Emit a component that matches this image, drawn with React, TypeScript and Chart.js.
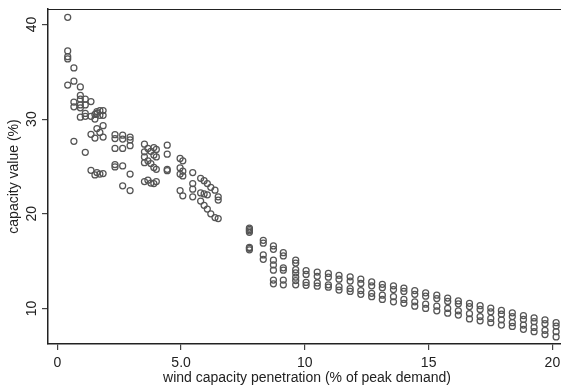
import React, { useEffect, useRef } from "react";
import { Chart, registerables } from "chart.js";

Chart.register(...registerables);

// ---- data ----
const lowPenX = [0.42, 0.42, 0.42, 0.42, 0.42, 0.67, 0.67, 0.67, 0.67, 0.67, 0.93, 0.93, 0.93, 0.93, 0.93, 0.93, 1.13, 1.13, 1.13, 1.13, 1.13, 1.36, 1.36, 1.36, 1.36, 1.52, 1.52, 1.52, 1.52, 1.6, 1.6, 1.6, 1.6, 1.72, 1.72, 1.72, 1.72, 1.85, 1.85, 1.85, 1.85, 1.85, 2.33, 2.33, 2.33, 2.33, 2.33, 2.64, 2.64, 2.64, 2.64, 2.64, 2.94, 2.94, 2.94, 2.94, 2.94];
const lowPenY = [40.75, 37.2, 36.6, 36.35, 33.6, 35.4, 34.0, 31.8, 31.3, 27.65, 33.4, 32.5, 32.1, 31.5, 31.2, 30.2, 32.1, 31.5, 30.6, 30.3, 26.5, 31.85, 30.3, 28.4, 24.6, 30.5, 30.0, 28.0, 24.1, 30.8, 30.6, 29.0, 24.35, 30.9, 30.4, 28.6, 24.2, 30.9, 30.4, 29.3, 28.1, 24.25, 28.35, 27.95, 26.9, 25.2, 24.95, 28.3, 27.9, 26.9, 25.05, 22.95, 28.1, 27.8, 27.2, 24.2, 22.45];

const midPenX = [3.52, 3.52, 3.52, 3.52, 3.52, 3.66, 3.66, 3.66, 3.78, 3.78, 3.78, 3.9, 3.9, 3.9, 3.9, 4.0, 4.0, 4.0, 4.0, 4.44, 4.44, 4.44, 4.44, 4.96, 4.96, 4.96, 4.96, 5.07, 5.07, 5.07, 5.07, 5.47, 5.47, 5.47, 5.47, 5.79, 5.79, 5.79, 5.93, 5.93, 5.93, 6.06, 6.06, 6.06, 6.2, 6.2, 6.37, 6.37, 6.5, 6.5, 6.5];
const midPenY = [27.35, 26.55, 26.0, 25.4, 23.4, 26.9, 25.6, 23.55, 26.6, 25.3, 23.25, 27.0, 26.2, 24.9, 23.2, 26.8, 26.0, 24.7, 23.4, 27.25, 26.3, 24.7, 24.55, 25.85, 24.85, 24.2, 22.45, 25.6, 24.5, 24.0, 21.9, 24.35, 23.2, 22.6, 21.8, 23.75, 22.2, 21.35, 23.5, 22.1, 20.9, 23.2, 22.0, 20.5, 22.8, 20.0, 22.5, 19.6, 21.8, 21.45, 19.5];

const transitionX = [7.76, 7.76, 7.76, 7.76, 7.76, 7.76, 7.76, 8.32, 8.32, 8.32, 8.32, 8.73, 8.73, 8.73, 8.73, 8.73, 8.73, 8.73, 9.13, 9.13, 9.13, 9.13, 9.13, 9.13, 9.63, 9.63, 9.63, 9.63, 9.63, 9.63, 9.63];
const transitionY = [18.5, 18.35, 18.2, 18.05, 16.45, 16.35, 16.2, 17.2, 16.9, 15.65, 15.2, 16.6, 16.25, 15.1, 14.6, 14.05, 13.0, 12.6, 15.9, 15.55, 14.3, 14.05, 13.0, 12.5, 15.1, 14.8, 14.1, 13.75, 13.3, 12.95, 12.5];

const highPenX = [10.05, 10.5, 10.95, 11.38, 11.83, 12.26, 12.7, 13.13, 13.58, 14.0, 14.44, 14.88, 15.33, 15.77, 16.2, 16.65, 17.08, 17.51, 17.94, 18.38, 18.83, 19.26, 19.7, 20.15];
const highPenTop = [14.0, 13.85, 13.7, 13.5, 13.35, 13.1, 12.8, 12.55, 12.4, 12.15, 11.9, 11.65, 11.4, 11.1, 10.8, 10.55, 10.3, 10.05, 9.8, 9.55, 9.25, 9.0, 8.8, 8.5];
const highPenUpper = [13.6, 13.4, 13.3, 13.1, 12.9, 12.65, 12.4, 12.2, 12.0, 11.8, 11.5, 11.3, 11.05, 10.75, 10.5, 10.2, 9.9, 9.65, 9.4, 9.15, 8.85, 8.6, 8.4, 8.15];
const highPenLower = [12.75, 12.7, 12.5, 12.3, 12.1, 11.9, 11.6, 11.4, 11.25, 10.95, 10.7, 10.45, 10.25, 10.0, 9.75, 9.45, 9.15, 8.95, 8.8, 8.5, 8.25, 8.0, 7.7, 7.55];
const highPenBottom = [12.45, 12.35, 12.25, 11.95, 11.8, 11.5, 11.25, 10.95, 10.7, 10.55, 10.25, 10.0, 9.75, 9.5, 9.3, 8.9, 8.7, 8.5, 8.25, 8.1, 7.8, 7.55, 7.25, 7.0];

const xTickValues = [0, 5, 10, 15, 20];
const xTickLabels = ["0", "5.0", "10", "15", "20"];
const yTickValues = [10, 20, 30, 40];
const yTickLabels = ["10", "20", "30", "40"];
const xTitle = "wind capacity penetration (% of peak demand)";
const yTitle = "capacity value (%)";

const FONT = '14px "Liberation Sans", Arial, Helvetica, sans-serif';
const INK = "#222";

function zip(xs: number[], ys: number[]) {
  return xs.map((x, i) => ({ x, y: ys[i] }));
}

export default function App() {
  const ref = useRef<HTMLCanvasElement | null>(null);

  useEffect(() => {
    document.body.style.margin = "0";
    const canvas = ref.current!;
    const points = [
      ...zip(lowPenX, lowPenY),
      ...zip(midPenX, midPenY),
      ...zip(transitionX, transitionY),
      ...zip(highPenX, highPenTop),
      ...zip(highPenX, highPenUpper),
      ...zip(highPenX, highPenLower),
      ...zip(highPenX, highPenBottom),
    ];

    const textPlugin = {
      id: "stataText",
      afterDraw(chart: any) {
        const ctx = chart.ctx;
        const xs = chart.scales.x;
        const ys = chart.scales.y;
        const area = chart.chartArea;
        ctx.save();
        // top frame line
        ctx.strokeStyle = INK;
        ctx.lineWidth = 1;
        ctx.beginPath();
        ctx.moveTo(area.left, area.top + 0.5);
        ctx.lineTo(area.right, area.top + 0.5);
        ctx.stroke();

        ctx.fillStyle = INK;
        ctx.font = FONT;
        ctx.textAlign = "center";
        ctx.textBaseline = "alphabetic";
        xTickValues.forEach((v, i) => {
          ctx.fillText(xTickLabels[i], xs.getPixelForValue(v), 367);
        });
        ctx.fillText(xTitle, 307, 382);
        yTickValues.forEach((v, i) => {
          ctx.save();
          ctx.translate(35.5, ys.getPixelForValue(v));
          ctx.rotate(-Math.PI / 2);
          ctx.fillText(yTickLabels[i], 0, 0);
          ctx.restore();
        });
        ctx.save();
        ctx.translate(17.5, (area.top + area.bottom) / 2);
        ctx.rotate(-Math.PI / 2);
        ctx.fillText(yTitle, 0, 0);
        ctx.restore();
        ctx.restore();
      },
    };

    const chart = new Chart(canvas, {
      type: "scatter",
      data: {
        datasets: [
          {
            data: points,
            pointRadius: 3,
            pointHoverRadius: 3,
            pointBorderWidth: 1.25,
            pointBorderColor: "#555555",
            pointBackgroundColor: "rgba(0,0,0,0)",
            showLine: false,
          },
        ],
      },
      options: {
        animation: false,
        responsive: false,
        devicePixelRatio: 1,
        layout: { padding: { top: 9, left: 0, right: 0, bottom: 0 }, autoPadding: false },
        plugins: { legend: { display: false }, tooltip: { enabled: false } },
        scales: {
          x: {
            type: "linear",
            min: -0.376,
            max: 20.63,
            afterBuildTicks: (s: any) => {
              s.ticks = xTickValues.map((v) => ({ value: v }));
            },
            afterFit: (s: any) => {
              s.height = 44;
            },
            ticks: { display: false },
            grid: { display: true, drawOnChartArea: false, drawTicks: true, tickLength: 6, color: "#444", lineWidth: 1.2 },
            border: { display: true, color: INK, width: 1.5 },
          },
          y: {
            type: "linear",
            min: 6.25,
            max: 41.63,
            afterBuildTicks: (s: any) => {
              s.ticks = yTickValues.map((v) => ({ value: v }));
            },
            afterFit: (s: any) => {
              s.width = 48;
            },
            ticks: { display: false },
            grid: { display: true, drawOnChartArea: false, drawTicks: true, tickLength: 6, color: "#444", lineWidth: 1.2 },
            border: { display: true, color: INK, width: 1.5 },
          },
        },
      },
      plugins: [textPlugin],
    });
    return () => chart.destroy();
  }, []);

  return (
    <div style={{ position: "fixed", left: 0, top: 0, width: 561, height: 388, overflow: "hidden", background: "#fff" }}>
      <canvas ref={ref} width={568} height={388} style={{ display: "block", width: 568, height: 388 }} />
    </div>
  );
}
